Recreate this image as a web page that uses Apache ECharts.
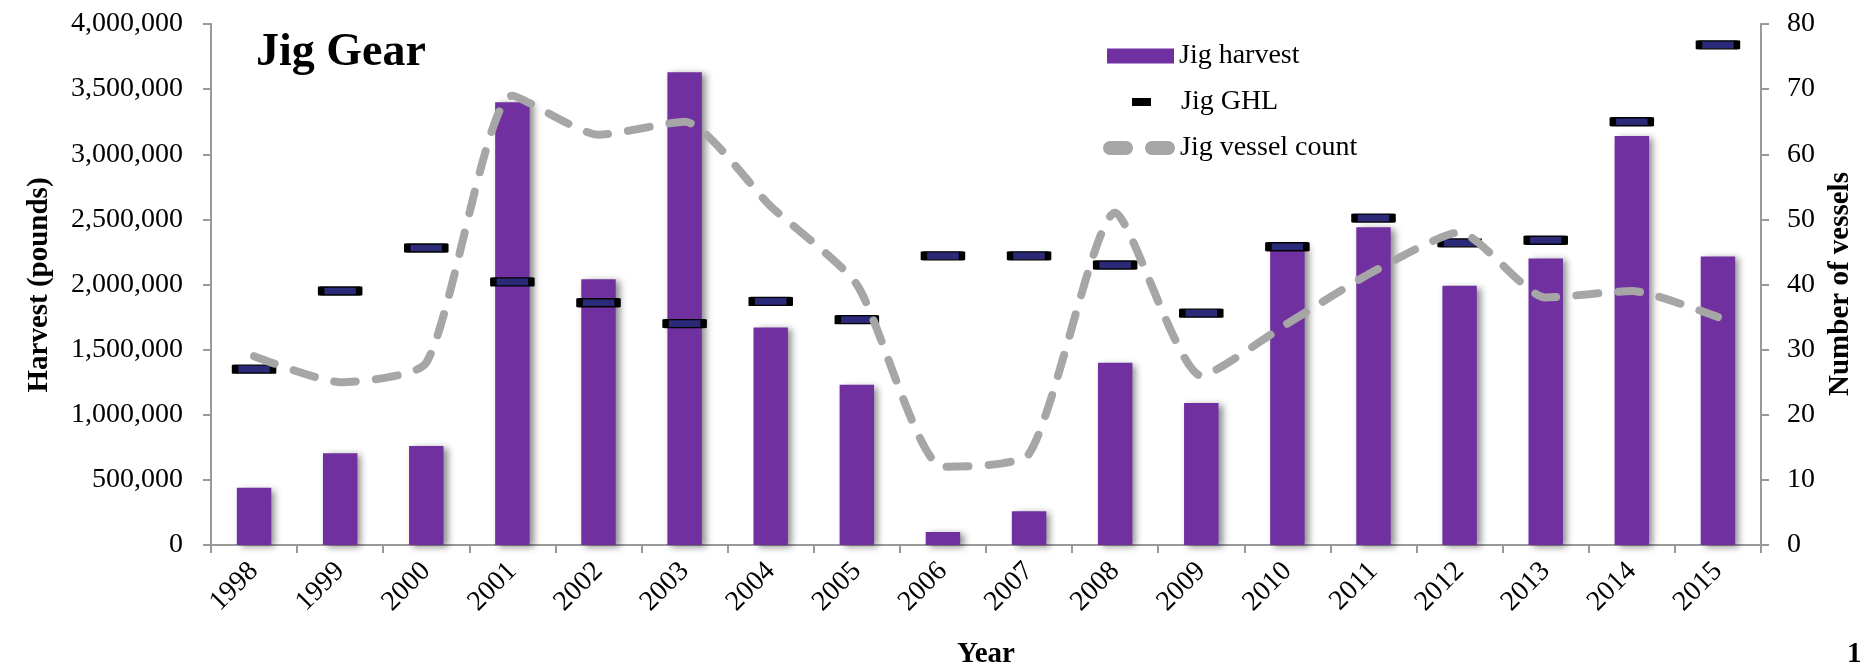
<!DOCTYPE html>
<html>
<head>
<meta charset="utf-8">
<script src="https://cdn.jsdelivr.net/npm/echarts@6/dist/echarts.min.js"></script>
<style>
html,body{margin:0;padding:0;background:#fff;}
#c{width:1864px;height:663px;}
</style>
</head>
<body>
<div id="c"></div>
<script>
const years = ['1998','1999','2000','2001','2002','2003','2004','2005','2006','2007','2008','2009','2010','2011','2012','2013','2014','2015'];
const jigHarvest = [440000, 705000, 760000, 3400000, 2040000, 3630000, 1670000, 1230000, 100000, 260000, 1400000, 1090000, 2300000, 2440000, 1990000, 2200000, 3140000, 2215000];
const jigGHL = [1350000, 1950000, 2280000, 2020000, 1860000, 1700000, 1870000, 1730000, 2220000, 2220000, 2150000, 1780000, 2290000, 2510000, 2320000, 2340000, 3250000, 3840000];
const vesselCount = [29, 25, 28, 69, 63, 65, 52, 40, 12, 14, 51, 26, 34, 42, 48, 38, 39, 35];
const leftAxis = {min: 0, max: 4000000, interval: 500000};
const rightAxis = {min: 0, max: 80, interval: 10};

const FONT = "'Liberation Serif', 'Times New Roman', serif";
const AXIS_GRAY = '#9a9a9a';
const DASH_ICON = 'path://M7,0L23,0A7,7 0 0 1 23,14L7,14A7,7 0 0 1 7,0ZM49,0L65,0A7,7 0 0 1 65,14L49,14A7,7 0 0 1 49,0Z';

const chart = echarts.init(document.getElementById('c'), null, {renderer: 'canvas'});
const legendText = {fontFamily: FONT, fontSize: 28, color: '#000'};

chart.setOption({
  animation: false,
  backgroundColor: '#fff',
  grid: {left: 211, right: 103, top: 24, bottom: 118, containLabel: false},
  legend: [
    {data: [{name: 'Jig harvest', icon: 'rect'}], left: 1102, top: 37, itemWidth: 67, itemHeight: 15, itemGap: 0, textStyle: legendText, selectedMode: false},
    {data: [{name: 'Jig GHL', icon: 'rect', itemStyle: {color: '#000', borderColor: '#000', borderWidth: 0, opacity: 1}}], left: 1127, top: 83, itemWidth: 19, itemHeight: 8, textStyle: Object.assign({padding: [0, 0, 0, 25]}, legendText), selectedMode: false},
    {data: [{name: 'Jig vessel count', icon: DASH_ICON, itemStyle: {color: '#A6A6A6', borderWidth: 0}}], left: 1098, top: 129, itemWidth: 72, itemHeight: 14, textStyle: legendText, selectedMode: false}
  ],
  xAxis: {
    type: 'category',
    data: years,
    boundaryGap: true,
    axisLine: {lineStyle: {color: AXIS_GRAY, width: 2}},
    axisTick: {show: true, alignWithLabel: false, length: 8, lineStyle: {color: AXIS_GRAY, width: 2}},
    axisLabel: {rotate: 45, margin: 22, fontFamily: FONT, fontSize: 28, color: '#000', interval: 0},
    splitLine: {show: false}
  },
  yAxis: [
    {
      type: 'value', min: leftAxis.min, max: leftAxis.max, interval: leftAxis.interval,
      axisLine: {show: true, lineStyle: {color: AXIS_GRAY, width: 2}},
      axisTick: {show: true, length: 8, lineStyle: {color: AXIS_GRAY, width: 2}},
      axisLabel: {margin: 28, fontFamily: FONT, fontSize: 28, color: '#000', formatter: v => v.toLocaleString('en-US')},
      splitLine: {show: false}
    },
    {
      type: 'value', min: rightAxis.min, max: rightAxis.max, interval: rightAxis.interval, position: 'right',
      axisLine: {show: true, lineStyle: {color: AXIS_GRAY, width: 2}},
      axisTick: {show: true, length: 8, lineStyle: {color: AXIS_GRAY, width: 2}},
      axisLabel: {margin: 26, fontFamily: FONT, fontSize: 28, color: '#000'},
      splitLine: {show: false}
    }
  ],
  series: [
    {
      name: 'Jig harvest', type: 'bar', data: jigHarvest, barWidth: '40%', z: 2,
      itemStyle: {color: '#7030A0', shadowColor: 'rgba(0,0,0,0.45)', shadowBlur: 7, shadowOffsetX: 4, shadowOffsetY: 2}
    },
    {
      name: 'Jig GHL', type: 'scatter', data: jigGHL, symbol: 'rect', symbolSize: [38, 8], z: 3,
      itemStyle: {color: '#2B2A78', borderColor: '#000', borderWidth: 3, opacity: 1, borderJoin: 'round'}
    },
    {
      name: 'Jig vessel count', type: 'line', yAxisIndex: 1, data: vesselCount, symbol: 'none', smooth: 0.2, z: 4,
      itemStyle: {color: '#A6A6A6'},
      lineStyle: {color: '#A6A6A6', width: 8, type: [22, 20], cap: 'round', join: 'round'}
    }
  ],
  graphic: [
    {type: 'text', left: 256, top: 30, style: {text: 'Jig Gear', font: "bold 46px 'Liberation Serif', 'Times New Roman', serif", fill: '#000'}},
    {type: 'text', x: 40, y: 285, rotation: Math.PI / 2, style: {text: 'Harvest (pounds)', font: "bold 29px 'Liberation Serif', 'Times New Roman', serif", fill: '#000', align: 'center', verticalAlign: 'middle'}},
    {type: 'text', x: 1841, y: 284, rotation: Math.PI / 2, style: {text: 'Number of vessels', font: "bold 29px 'Liberation Serif', 'Times New Roman', serif", fill: '#000', align: 'center', verticalAlign: 'middle'}},
    {type: 'text', x: 986, y: 640, style: {text: 'Year', font: "bold 29px 'Liberation Serif', 'Times New Roman', serif", fill: '#000', align: 'center', verticalAlign: 'top'}},
    {type: 'text', x: 1847, y: 640, style: {text: '1', font: "bold 29px 'Liberation Serif', 'Times New Roman', serif", fill: '#000', align: 'left', verticalAlign: 'top'}}
  ]
});
</script>
</body>
</html>
